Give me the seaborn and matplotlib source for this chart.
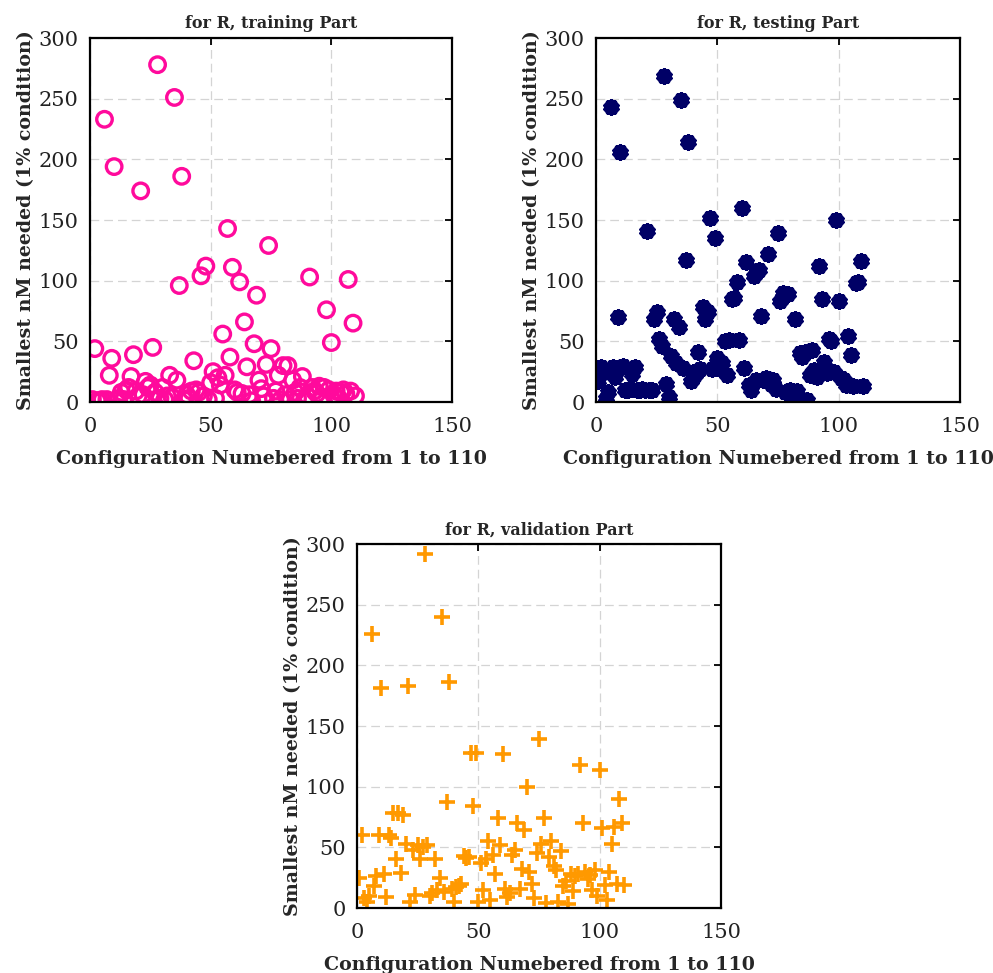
import numpy as np
import pandas as pd
import matplotlib
matplotlib.use("Agg")
import matplotlib.pyplot as plt
import seaborn as sns

# ---------------- data ----------------
config = list(range(1, 111))

train_nM = [2, 44, 1, 1, 2, 233, 2, 22, 36, 194,
            1, 3, 8, 2, 10, 12, 21, 39, 9, 5,
            174, 6, 17, 12, 14, 45, 8, 278, 3, 12,
            2, 5, 22, 4, 251, 18, 96, 186, 2, 6,
            3, 9, 34, 10, 8, 104, 5, 112, 2, 16,
            25, 3, 20, 14, 56, 22, 143, 37, 111, 10,
            8, 99, 7, 66, 29, 6, 1, 48, 88, 18,
            11, 5, 31, 129, 44, 3, 9, 22, 2, 30,
            6, 30, 2, 18, 8, 3, 12, 21, 2, 5,
            103, 12, 9, 7, 13, 4, 12, 76, 10, 49,
            6, 9, 3, 8, 10, 7, 101, 9, 65, 5]

test_nM = [17, 29, 25, 3, 8, 243, 29, 21, 70, 206,
           30, 10, 10, 11, 23, 29, 10, 10, 11, 10,
           141, 10, 10, 68, 74, 52, 46, 269, 15, 4,
           38, 68, 32, 62, 249, 28, 117, 214, 17, 25,
           22, 41, 27, 78, 68, 74, 152, 27, 135, 36,
           27, 32, 50, 22, 51, 85, 86, 99, 51, 160,
           28, 115, 14, 10, 104, 18, 109, 71, 18, 20,
           122, 15, 18, 11, 139, 83, 90, 8, 89, 10,
           5, 68, 9, 40, 37, 41, 2, 22, 43, 26,
           21, 112, 85, 33, 24, 52, 50, 25, 150, 83,
           20, 18, 14, 54, 39, 13, 98, 99, 116, 13]

valid_nM = [25, 60, 8, 5, 10, 226, 18, 26, 60, 181,
            28, 9, 60, 58, 78, 40, 78, 29, 77, 53,
            183, 5, 48, 11, 52, 40, 50, 292, 52, 10,
            12, 40, 15, 25, 240, 13, 87, 186, 16, 5,
            17, 18, 20, 43, 41, 42, 128, 84, 128, 5,
            37, 15, 40, 55, 7, 44, 28, 74, 52, 127,
            16, 9, 12, 44, 48, 70, 16, 32, 64, 100,
            30, 20, 8, 45, 139, 53, 74, 4, 42, 55,
            35, 31, 5, 47, 18, 22, 3, 28, 14, 26,
            28, 118, 70, 30, 24, 27, 15, 31, 10, 114,
            66, 19, 7, 30, 53, 67, 20, 90, 70, 19]

titles = ["for R, training Part", "for R, testing Part", "for R, validation Part"]
xlabel = "Configuration Numebered from 1 to 110"
ylabel = "Smallest nM needed (1% condition)"
xticks = [0, 50, 100, 150]
yticks = [0, 50, 100, 150, 200, 250, 300]

# ---------------- style ----------------
sns.set_theme(style="white")
plt.rcParams['font.family'] = ['DejaVu Serif']

fig = plt.figure(figsize=(9.93, 9.73), dpi=100)

positions = [
    [90 / 993, 1 - 402 / 973, 362 / 993, 364 / 973],
    [596 / 993, 1 - 402 / 973, 364 / 993, 364 / 973],
    [357 / 993, 1 - 908 / 973, 364 / 993, 364 / 973],
]

series = [train_nM, test_nM, valid_nM]
styles = [
    dict(marker="o", facecolor="none", edgecolor="#FF0A9C", s=125, linewidth=2.4),
    dict(marker=(10, 2, 0), color="#000066", edgecolor="#000066", s=75, linewidth=3.4),
    dict(marker="+", color="#FF9900", s=130, linewidth=2.6),
]

for pos, vals, st, title in zip(positions, series, styles, titles):
    ax = fig.add_axes(pos)
    df = pd.DataFrame({"config": config, "nM": vals})
    sns.scatterplot(data=df, x="config", y="nM", ax=ax, legend=False, **st)
    ax.set_xlim(0, 150)
    ax.set_ylim(0, 300)
    ax.set_xticks(xticks)
    ax.set_yticks(yticks)
    ax.grid(True, color="#d4d4d4", linestyle=(0, (7, 4)), linewidth=0.9)
    ax.set_axisbelow(True)
    for sp in ax.spines.values():
        sp.set_visible(True)
        sp.set_color("black")
        sp.set_linewidth(1.6)
    ax.tick_params(direction="in", length=5, width=1.3, top=True, right=True,
                   labelsize=15, colors="black")
    ax.tick_params(axis="x", pad=11)
    ax.tick_params(axis="y", pad=8)
    for lab in ax.get_xticklabels() + ax.get_yticklabels():
        lab.set_color("#222222")
    ax.set_title(title, fontsize=11.5, fontweight="bold", pad=7)
    ax.set_xlabel(xlabel, fontsize=13.7, fontweight="bold", labelpad=10)
    ax.set_ylabel(ylabel, fontsize=13.7, fontweight="bold", labelpad=3)

fig.savefig("out.png", dpi=100)
